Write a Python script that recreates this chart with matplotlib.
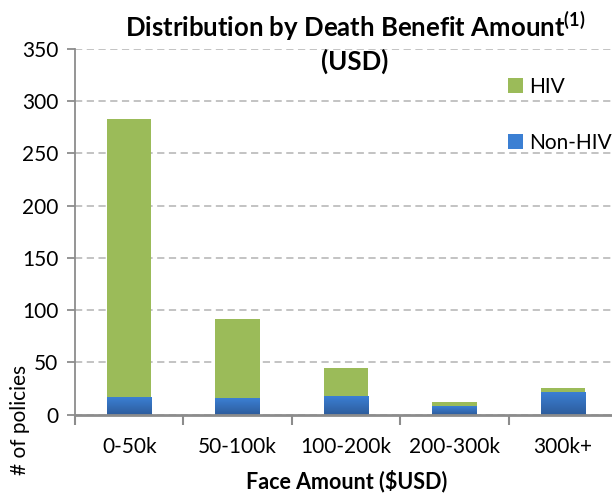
import matplotlib.pyplot as plt
import numpy as np
from matplotlib.colors import LinearSegmentedColormap

plt.rcParams['font.family'] = ['Lato', 'DejaVu Sans']
plt.rcParams['mathtext.fontset'] = 'custom'
plt.rcParams['mathtext.bf'] = 'Lato:bold'
plt.rcParams['mathtext.rm'] = 'Lato'

# policy counts per face-amount bucket
categories = ['0-50k', '50-100k', '100-200k', '200-300k', '300k+']
non_hiv = [17, 16, 18, 8, 22]
hiv = [266, 76, 27, 4, 4]

green = '#9BBB59'
blue_top = '#3B7FD3'
blue_bottom = '#2D5C9C'
axis_gray = '#8C8C8C'

fig = plt.figure(figsize=(6.12, 4.94), dpi=100)
# the plot area runs slightly past the right edge of the figure
ax = fig.add_axes([75 / 612, 79.3 / 494, 542 / 612, 365.7 / 494])

x = np.arange(len(categories))
width = 0.41

blues = ax.bar(x, non_hiv, width, color=blue_top, label='Non-HIV', zorder=3)
greens = ax.bar(x, hiv, width, bottom=non_hiv, color=green, label='HIV', zorder=3)

# vertical gradient on the blue segments
cmap = LinearSegmentedColormap.from_list('bl', [blue_bottom, blue_top])
grad = np.linspace(0, 1, 64).reshape(-1, 1)
for rect in blues:
    x0, h = rect.get_x(), rect.get_height()
    im = ax.imshow(grad, cmap=cmap, aspect='auto', origin='lower',
                   extent=[x0, x0 + width, 0, h], zorder=3.5)
    im.set_clip_path(rect)

ax.set_xlim(-0.5, len(categories) - 0.5)
ax.set_ylim(0, 350)
ax.set_yticks(np.arange(0, 351, 50))
ax.yaxis.grid(True, linestyle=(0, (4, 2.5)), color='#BEBEBE', linewidth=1.3, zorder=0)
ax.set_axisbelow(True)

# category boundaries as major ticks, labels on minor ticks
ax.set_xticks(np.arange(-0.5, len(categories), 1.0))
ax.set_xticklabels([])
ax.set_xticks(x, minor=True)
ax.set_xticklabels(categories, minor=True, fontsize=15)
ax.tick_params(axis='x', which='major', length=7, width=1.5, color=axis_gray, direction='out')
ax.tick_params(axis='x', which='minor', length=0, pad=16)
ax.tick_params(axis='y', length=6, width=1.3, color=axis_gray, labelsize=15, pad=6)

for side in ['top', 'right']:
    ax.spines[side].set_visible(False)
ax.spines['left'].set_color(axis_gray)
ax.spines['left'].set_linewidth(1.3)
ax.spines['bottom'].set_color(axis_gray)
ax.spines['bottom'].set_linewidth(2)
ax.spines['bottom'].set_zorder(4)

handles, labels = ax.get_legend_handles_labels()
leg = ax.legend(handles[::-1], labels[::-1], loc='upper left',
                bbox_to_anchor=((508 - 75) / 542, (414.7 - 77) / 365.7),
                frameon=False, fontsize=15, handlelength=0.7, handleheight=0.7,
                handletextpad=0.3, labelspacing=1.72, borderaxespad=0, borderpad=0)

fig.text(355 / 612, 1 - 26 / 494, r'Distribution by Death Benefit Amount$^{\mathbf{(1)}}$',
         ha='center', va='center', fontsize=18.5, fontweight='bold')
fig.text(355 / 612, 1 - 61 / 494, '(USD)', ha='center', va='center',
         fontsize=18.5, fontweight='bold')
fig.text(347 / 612, 1 - 481 / 494, 'Face Amount ($USD)', ha='center', va='center',
         fontsize=15.5, fontweight='bold')
fig.text(20 / 612, 1 - 420 / 494, '# of policies', ha='center', va='center',
         rotation=90, fontsize=15)

fig.savefig('out.png', dpi=100)
